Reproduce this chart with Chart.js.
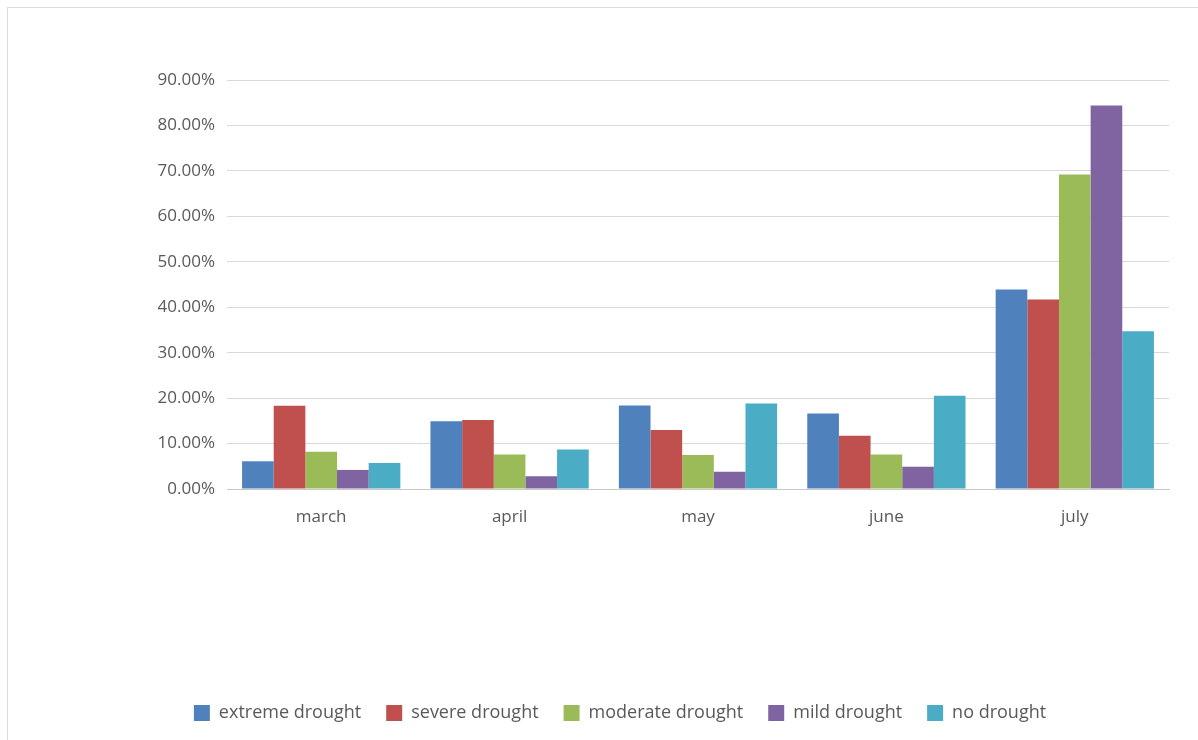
<!DOCTYPE html>
<html>
<head>
<meta charset="utf-8">
<script src="https://cdn.jsdelivr.net/npm/chart.js@4"></script>
<style>
  html, body { margin: 0; padding: 0; background: #fff; }
  #wrap { position: relative; width: 1198px; height: 740px; }
  #frame { position: absolute; left: 7px; top: 7px; width: 1200px; height: 740px; border-left: 1px solid #dcdcdc; border-top: 1px solid #dcdcdc; pointer-events: none; }
  canvas { position: absolute; left: 0; top: 0; }
</style>
</head>
<body>
<div id="wrap">
  <canvas id="c" width="1198" height="740"></canvas>
  <div id="frame"></div>
</div>
<script>
const categories = ["march", "april", "may", "june", "july"];
const seriesNames = ["extreme drought", "severe drought", "moderate drought", "mild drought", "no drought"];
const extremeDrought = [6.1, 14.9, 18.4, 16.6, 43.9];
const severeDrought = [18.3, 15.2, 13.0, 11.7, 41.7];
const moderateDrought = [8.2, 7.6, 7.5, 7.6, 69.2];
const mildDrought = [4.2, 2.8, 3.8, 4.9, 84.4];
const noDrought = [5.7, 8.7, 18.8, 20.5, 34.7];
const yTicks = [0, 10, 20, 30, 40, 50, 60, 70, 80, 90];

const colors = ["#4F81BD", "#C0504D", "#9BBB59", "#8064A2", "#4BACC6"];
const values = [extremeDrought, severeDrought, moderateDrought, mildDrought, noDrought];

const datasets = seriesNames.map((name, i) => ({
  label: name,
  data: values[i],
  backgroundColor: colors[i],
  borderWidth: 0,
  categoryPercentage: 0.84,
  barPercentage: 1.0
}));

const textColor = "#595959";
const fontFamily = "'Open Sans', 'Noto Sans', sans-serif";

new Chart(document.getElementById("c"), {
  type: "bar",
  data: { labels: categories, datasets: datasets },
  options: {
    responsive: false,
    animation: false,
    layout: { padding: { left: 71, right: 29, top: 80, bottom: 8 } },
    plugins: {
      legend: {
        position: "bottom",
        labels: {
          color: textColor,
          font: { family: fontFamily, size: 18 },
          boxWidth: 16,
          boxHeight: 16,
          padding: 25
        }
      },
      tooltip: { enabled: false }
    },
    scales: {
      x: {
        grid: { display: false, drawTicks: false },
        border: { display: true, color: "#c8c8c8", width: 1 },
        ticks: { color: textColor, font: { family: fontFamily, size: 17 }, padding: 18 },
        afterFit: (scale) => { scale.height = 190; }
      },
      y: {
        min: 0,
        max: 90,
        afterBuildTicks: (scale) => { scale.ticks = yTicks.map(v => ({ value: v })); },
        grid: { color: "#d9d9d9", drawTicks: false, lineWidth: 1 },
        border: { display: false },
        ticks: {
          color: textColor,
          font: { family: fontFamily, size: 17 },
          padding: 12,
          callback: (v) => v.toFixed(2) + "%"
        },
        afterFit: (scale) => { scale.width = 156; }
      }
    }
  }
});
</script>
</body>
</html>
